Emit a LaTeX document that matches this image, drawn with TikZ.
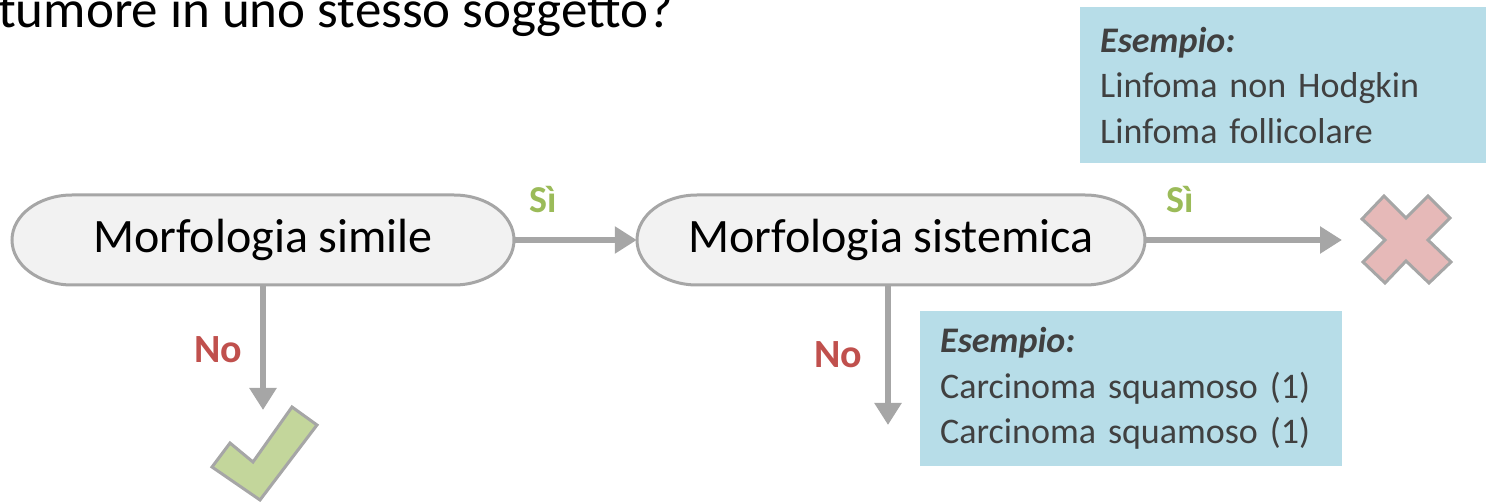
\documentclass[tikz,border=0pt]{standalone}
\usepackage{fontspec}
\setmainfont{Carlito}
\usetikzlibrary{arrows.meta,positioning}

\definecolor{linegray}{HTML}{A6A6A6}
\definecolor{nodefill}{HTML}{F2F2F2}
\definecolor{boxblue}{HTML}{B7DDE8}
\definecolor{boxtext}{HTML}{404040}
\definecolor{yesgreen}{HTML}{9BBB59}
\definecolor{nored}{HTML}{C0504D}
\definecolor{checkgreen}{HTML}{C3D69B}
\definecolor{crosspink}{HTML}{E6B9B8}

% pill outline: center x, center y, half width
\newcommand{\pillshape}[3]{%
  \filldraw[pill] (#1-#3+60,#2-45) -- (#1+#3-60,#2-45)
    arc[start angle=-90,end angle=90,x radius=60,y radius=45]
    -- (#1-#3+60,#2+45)
    arc[start angle=90,end angle=270,x radius=60,y radius=45] -- cycle;}

\begin{document}
\begin{tikzpicture}[x=1pt,y=-1pt,
    pill/.style={draw=linegray, line width=3pt, fill=nodefill},
    stadium/.style={minimum height=90pt, inner sep=0pt, font=\fontsize{48}{56}\selectfont},
    flow/.style={draw=linegray, line width=6pt, -{Triangle[length=22pt,width=26pt]}},
    yeslabel/.style={text=yesgreen, font=\fontsize{38}{44}\selectfont\bfseries},
    nolabel/.style={text=nored, font=\fontsize{40}{46}\selectfont\bfseries},
    example/.style={fill=boxblue, text=boxtext, align=left, anchor=north west,
        inner xsep=20pt, inner ysep=0pt, font=\fontsize{36}{45.5}\selectfont},
    symbolshape/.style={draw=linegray, line width=3pt, line join=miter}]
    \useasboundingbox (0,0) rectangle (1486,502);
    \clip (0,0) rectangle (1486,502);

    % Title (cut by the page)
    \node[anchor=base west, inner sep=0pt, font=\fontsize{53}{60}\selectfont] (title) at (-2,28) {tumore in uno stesso soggetto?};

    % Decisions
    \pillshape{263}{240}{251}
    \pillshape{891}{240}{254}
    \node[stadium, minimum width=502pt] (simile) at (263,240) {Morfologia simile};
    \node[stadium, minimum width=508pt] (sistemica) at (891,240) {Morfologia sistemica};

    % Examples
    \node[example, text width=400pt, minimum height=156pt] (ex1) at (1080,7)
        {\textbf{\textit{Esempio:}}\\Linfoma non Hodgkin\\Linfoma follicolare};
    \node[example, text width=382pt, minimum height=155pt] (ex2) at (920,311)
        {\textbf{\textit{Esempio:}}\\Carcinoma squamoso (1)\\Carcinoma squamoso (1)};

    % Arrows
    \coordinate (xend) at (1342,240);
    \coordinate (okend) at (263,410);
    \coordinate (noend) at (888,425);
    \draw[flow] (simile.east) -- (sistemica.west);
    \draw[flow] (sistemica.east) -- (xend);
    \draw[flow] (simile.south) -- (okend);
    \draw[flow] (sistemica.south -| noend) -- (noend);

    % Labels
    \node[yeslabel] (si1) at (543,200) {Sì};
    \node[yeslabel] (si2) at (1180,200) {Sì};
    \node[nolabel] (no1) at (218,350) {No};
    \node[nolabel] (no2) at (838,355) {No};

    % Check mark
    \filldraw[symbolshape, fill=checkgreen] (212,467) -- (230,443) -- (253,462) -- (292,407)
        -- (317,425) -- (260,500) -- cycle;

    % Cross
    \filldraw[symbolshape, fill=crosspink] (1362,219) -- (1384,196) -- (1406,218) -- (1428,196)
        -- (1450,218) -- (1428,240) -- (1451,262) -- (1429,283) -- (1406,261)
        -- (1385,283) -- (1363,262) -- (1385,240) -- cycle;
\end{tikzpicture}
\end{document}
